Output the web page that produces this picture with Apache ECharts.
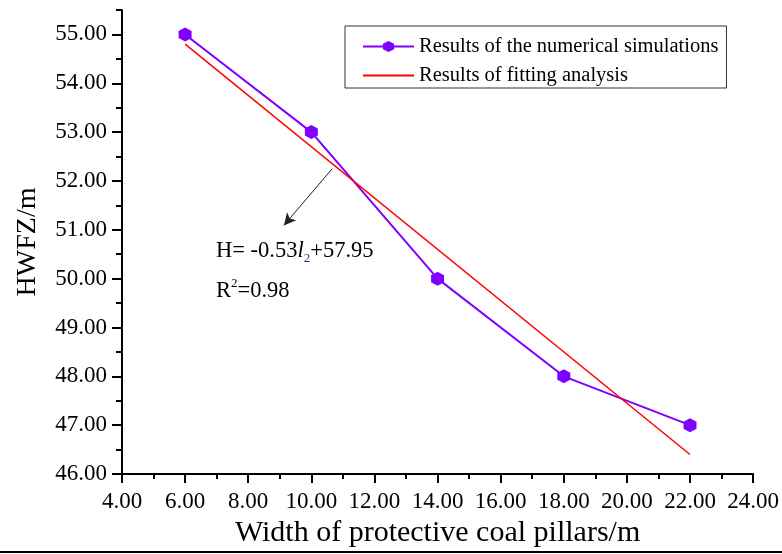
<!DOCTYPE html>
<html>
<head>
<meta charset="utf-8">
<script src="https://cdn.jsdelivr.net/npm/echarts@6/dist/echarts.min.js"></script>
<style>
  html, body { margin: 0; padding: 0; background: #ffffff; }
  #chart { width: 782px; height: 554px; }
</style>
</head>
<body>
<div id="chart"></div>
<script>
// Pillar width (m) and height of water-flowing fractured zone (m)
const pillarWidths = [6, 10, 14, 18, 22];
const simulatedHeights = [55.0, 53.0, 50.0, 48.0, 47.0];

// End points of the linear fit H = -0.53 l2 + 57.95
const fitWidths = [6, 22];
const fitHeights = [54.8, 46.4];

// Major tick values on the height axis
const heightTicks = [46, 47, 48, 49, 50, 51, 52, 53, 54, 55];

const SERIF = '"Liberation Serif", "DejaVu Serif", serif';
const PURPLE = '#7f00ff';
const RED = '#ff0000';
const hexagon = 'path://M0,-1 L0.866,-0.5 L0.866,0.5 L0,1 L-0.866,0.5 L-0.866,-0.5 Z';

const SIM_NAME = 'Results of the numerical simulations';
const FIT_NAME = 'Results of fitting analysis';

const chart = echarts.init(document.getElementById('chart'), null, { renderer: 'canvas' });

const option = {
  backgroundColor: '#ffffff',
  animation: false,
  grid: { left: 122, right: 25, top: 10, bottom: 80, containLabel: false },
  legend: {
    data: [
      { name: SIM_NAME },
      { name: FIT_NAME, itemStyle: { color: 'rgba(0,0,0,0)', borderWidth: 0, opacity: 0 } }
    ],
    orient: 'vertical',
    left: 345,
    top: 26,
    padding: [10, 8, 2, 17],
    itemGap: 8,
    itemWidth: 51,
    itemHeight: 14,
    borderColor: '#333333',
    borderWidth: 1,
    backgroundColor: '#ffffff',
    textStyle: { fontFamily: SERIF, fontSize: 20.5, color: '#000000', lineHeight: 20 }
  },
  xAxis: {
    type: 'value',
    min: 4,
    max: 24,
    interval: 2,
    name: 'Width of protective coal pillars/m',
    nameLocation: 'middle',
    nameGap: 43,
    nameTextStyle: { fontFamily: SERIF, fontSize: 30, color: '#000000' },
    axisLine: { show: true, onZero: false, lineStyle: { color: '#000000', width: 2 } },
    axisTick: { show: true, inside: false, length: 9, lineStyle: { color: '#000000', width: 2 } },
    minorTick: { show: true, splitNumber: 2, length: 5, lineStyle: { color: '#000000', width: 2 } },
    axisLabel: {
      margin: 16,
      fontFamily: SERIF,
      fontSize: 23,
      color: '#000000',
      formatter: v => v.toFixed(2)
    },
    splitLine: { show: false },
    minorSplitLine: { show: false }
  },
  yAxis: [
    {
      // half-unit ticks and the numeric labels
      type: 'value',
      min: 46,
      max: 55.5,
      interval: 0.5,
      position: 'left',
      name: 'HWFZ/m',
      nameLocation: 'middle',
      nameGap: 80,
      nameTextStyle: { fontFamily: SERIF, fontSize: 28, color: '#000000' },
      axisLine: { show: true, onZero: false, lineStyle: { color: '#000000', width: 2 } },
      axisTick: { show: true, inside: false, length: 6, lineStyle: { color: '#000000', width: 2 } },
      axisLabel: {
        margin: 15,
        fontFamily: SERIF,
        fontSize: 23,
        color: '#000000',
        formatter: v => (Math.abs(v - Math.round(v)) < 1e-9 && v <= 55 ? v.toFixed(2) : '')
      },
      splitLine: { show: false }
    },
    {
      // longer ticks on whole units
      type: 'value',
      min: 46,
      max: 55.5,
      position: 'left',
      offset: 0,
      axisLine: { show: false },
      axisTick: {
        show: true,
        inside: false,
        length: 10,
        customValues: heightTicks,
        lineStyle: { color: '#000000', width: 2 }
      },
      axisLabel: { show: false },
      splitLine: { show: false }
    }
  ],
  series: [
    {
      name: SIM_NAME,
      type: 'line',
      xAxisIndex: 0,
      yAxisIndex: 0,
      data: pillarWidths.map((w, i) => [w, simulatedHeights[i]]),
      symbol: hexagon,
      symbolSize: [13, 14],
      showAllSymbol: true,
      lineStyle: { color: PURPLE, width: 2 },
      itemStyle: { color: PURPLE },
      z: 3
    },
    {
      name: FIT_NAME,
      type: 'line',
      xAxisIndex: 0,
      yAxisIndex: 0,
      data: fitWidths.map((w, i) => [w, fitHeights[i]]),
      symbol: 'none',
      lineStyle: { color: RED, width: 1.5 },
      itemStyle: { color: RED },
      z: 4,
      markLine: {
        silent: true,
        symbol: ['none', 'arrow'],
        symbolSize: [9, 12],
        lineStyle: { color: '#222222', width: 1, type: 'solid' },
        label: { show: false },
        data: [[{ coord: [10.66, 52.25] }, { coord: [9.13, 51.09] }]]
      },
      markPoint: {
        silent: true,
        symbol: 'circle',
        symbolSize: 0,
        label: {
          show: true,
          position: 'right',
          distance: 0,
          fontFamily: SERIF,
          fontSize: 22.5,
          color: '#000000',
          rich: {
            t: { fontFamily: SERIF, fontSize: 22.5, color: '#000000', lineHeight: 28 },
            i: { fontFamily: SERIF, fontSize: 22.5, fontStyle: 'italic', color: '#000000', lineHeight: 28 },
            sub: { fontFamily: SERIF, fontSize: 13, color: '#1f3a7a', verticalAlign: 'bottom', lineHeight: 13 },
            sup: { fontFamily: SERIF, fontSize: 13, color: '#000000', verticalAlign: 'top', lineHeight: 13 }
          }
        },
        data: [
          { coord: [6.98, 50.57], label: { formatter: '{t|H= -0.53}{i|l}{sub|2}{t|+57.95}' } },
          { coord: [6.98, 49.74], label: { formatter: '{t|R}{sup|2}{t|=0.98}' } }
        ]
      }
    }
  ],
  graphic: [
    {
      type: 'line',
      shape: { x1: 0, y1: 552, x2: 782, y2: 552 },
      style: { stroke: '#000000', lineWidth: 2 },
      silent: true
    }
  ]
};

chart.setOption(option);
</script>
</body>
</html>
